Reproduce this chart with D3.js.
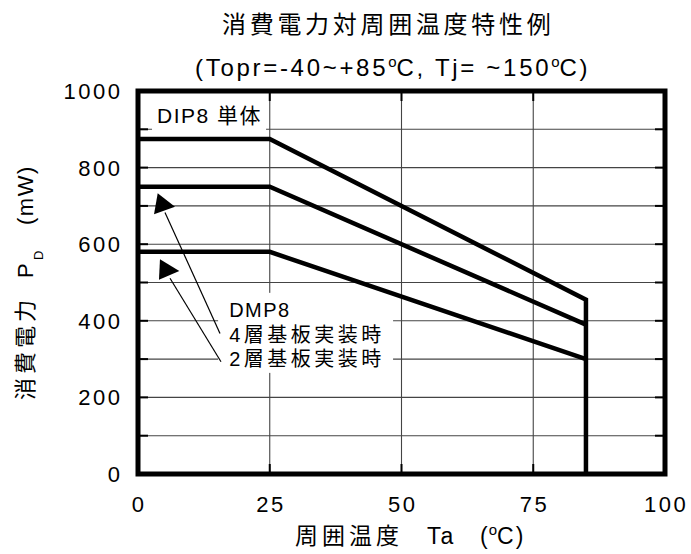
<!DOCTYPE html>
<html><head><meta charset="utf-8">
<script src="https://cdn.jsdelivr.net/npm/d3@7"></script>
<style>
html,body{margin:0;padding:0;background:#fff;}
svg{display:block;}
text{font-family:"Liberation Sans","Noto Sans CJK JP",Arial,sans-serif;fill:#000;}
</style></head>
<body>
<script>
// ---- data ----
const temps = [0, 25, 85];
const dip8 = [875, 875, 455];
const dmp8Layer4 = [750, 750, 390];
const dmp8Layer2 = [580, 580, 300];
const xTicks = [0, 25, 50, 75, 100];
const yTicks = [0, 200, 400, 600, 800, 1000];
const xGrid = [25, 50, 75];
const yGrid = [100, 200, 300, 400, 500, 600, 700, 800, 900];
const titleText = "消費電力対周囲温度特性例";
const dipLabel = "DIP8 単体";
const dmpLabels = ["DMP8", "4層基板実装時", "2層基板実装時"];

const W = 691, H = 554;
const svg = d3.select("body").append("svg").attr("width", W).attr("height", H);
const x = d3.scaleLinear([0, 100], [138, 665]);
const y = d3.scaleLinear([0, 1000], [474, 91]);

// grid
const g = svg.append("g");
g.selectAll(".hg").data(yGrid).join("line")
  .attr("x1", x(0)).attr("x2", x(100)).attr("y1", d => y(d)).attr("y2", d => y(d))
  .attr("stroke", "#444").attr("stroke-width", 1.1);
g.selectAll(".vg").data(xGrid).join("line")
  .attr("x1", d => x(d)).attr("x2", d => x(d)).attr("y1", y(0)).attr("y2", y(1000))
  .attr("stroke", "#444").attr("stroke-width", 1.1);
// inner ticks
const tl = 10;
yGrid.forEach(v => {
  g.append("line").attr("x1", x(0)).attr("x2", x(0) + tl).attr("y1", y(v)).attr("y2", y(v)).attr("stroke", "#000").attr("stroke-width", 2);
  g.append("line").attr("x1", x(100) - tl).attr("x2", x(100)).attr("y1", y(v)).attr("y2", y(v)).attr("stroke", "#000").attr("stroke-width", 2);
});
xGrid.forEach(v => {
  g.append("line").attr("x1", x(v)).attr("x2", x(v)).attr("y1", y(0)).attr("y2", y(0) - tl).attr("stroke", "#000").attr("stroke-width", 2);
  g.append("line").attr("x1", x(v)).attr("x2", x(v)).attr("y1", y(1000)).attr("y2", y(1000) + tl).attr("stroke", "#000").attr("stroke-width", 2);
});

// white label backgrounds
svg.append("rect").attr("x", x(2.66)).attr("y", y(976)).attr("width", x(24.3) - x(2.66)).attr("height", y(893) - y(976)).attr("fill", "#fff");
svg.append("rect").attr("x", x(15.2)).attr("y", y(473)).attr("width", x(48.4) - x(15.2)).attr("height", y(264) - y(473)).attr("fill", "#fff");

// series
const line = d3.line().x(d => x(d[0])).y(d => y(d[1]));
const series = [dip8, dmp8Layer4, dmp8Layer2];
series.forEach((s, i) => {
  const pts = temps.map((t, j) => [t, s[j]]);
  if (i === 0) pts.push([temps[2], 0]);
  svg.append("path").attr("d", line(pts)).attr("fill", "none")
    .attr("stroke", "#000").attr("stroke-width", 4.5).attr("stroke-linejoin", "miter");
});

// frame
svg.append("rect").attr("x", x(0)).attr("y", y(1000)).attr("width", x(100) - x(0)).attr("height", y(0) - y(1000))
  .attr("fill", "none").attr("stroke", "#000").attr("stroke-width", 5);

// annotations: leader lines + triangles (data units)
const leaders = [[[5.12, 683], [15.56, 367]], [[6.07, 511], [15.75, 293]]];
const tris = [[[3.74, 733], [3.04, 678], [7.02, 698]], [[4.17, 561], [3.98, 507], [7.84, 530]]];
leaders.forEach(l => svg.append("path").attr("d", line(l)).attr("stroke", "#000").attr("stroke-width", 1.2).attr("fill", "none"));
tris.forEach(t => svg.append("path").attr("d", line(t) + "Z").attr("fill", "#000"));

svg.append("text").attr("x", x(3.6)).attr("y", y(916)).attr("font-size", 21).attr("letter-spacing", 1.5).text(dipLabel);
const dmpY = [410, 345, 282];
dmpLabels.forEach((t, i) => svg.append("text").attr("x", x(17.3)).attr("y", y(dmpY[i]))
  .attr("font-size", 20).attr("letter-spacing", i === 0 ? 1.5 : 3.5).text(t));

// tick labels
svg.selectAll(".yl").data(yTicks).join("text")
  .attr("x", 122.5).attr("y", d => y(d)).attr("dy", "0.36em").attr("text-anchor", "end")
  .attr("font-size", 22).attr("letter-spacing", 2.5).text(d => d);
svg.selectAll(".xl").data(xTicks).join("text")
  .attr("x", d => x(d) + 1.2).attr("y", 512).attr("text-anchor", "middle")
  .attr("font-size", 22).attr("letter-spacing", 2.5).text(d => d);

// titles
svg.append("text").attr("x", 222).attr("y", 33).attr("font-size", 24).attr("letter-spacing", 3.7).text(titleText);
const t2 = svg.append("text").attr("x", 195).attr("y", 76).attr("font-size", 24).attr("letter-spacing", 2.7);
t2.append("tspan").text("(Topr=-40~+85");
t2.append("tspan").attr("font-size", 15).attr("dy", -9).attr("letter-spacing", 0).text("o");
t2.append("tspan").attr("dy", 9).text("C, Tj= ~150");
t2.append("tspan").attr("font-size", 15).attr("dy", -9).attr("letter-spacing", 0).text("o");
t2.append("tspan").attr("dy", 9).text("C)");

// x axis title
const xt = svg.append("text").attr("y", 544).attr("font-size", 23);
xt.append("tspan").attr("x", 295).attr("letter-spacing", 4).text("周囲温度");
xt.append("tspan").attr("x", 427).attr("letter-spacing", 2).text("Ta");
xt.append("tspan").attr("x", 480).attr("letter-spacing", 1).text("(");
xt.append("tspan").attr("font-size", 15).attr("dy", -9).text("o");
xt.append("tspan").attr("dy", 9).attr("letter-spacing", 2).text("C)");

// y axis title
const yt = svg.append("g").attr("transform", "translate(33,400) rotate(-90)")
  .append("text").attr("font-size", 22);
yt.append("tspan").attr("x", 0).attr("letter-spacing", 4).text("消費電力");
yt.append("tspan").attr("x", 122).text("P");
yt.append("tspan").attr("x", 140).attr("dy", 10).attr("font-size", 13).text("D");
yt.append("tspan").attr("x", 175).attr("dy", -10).attr("letter-spacing", 1.5).text("(mW)");
</script>
</body></html>
